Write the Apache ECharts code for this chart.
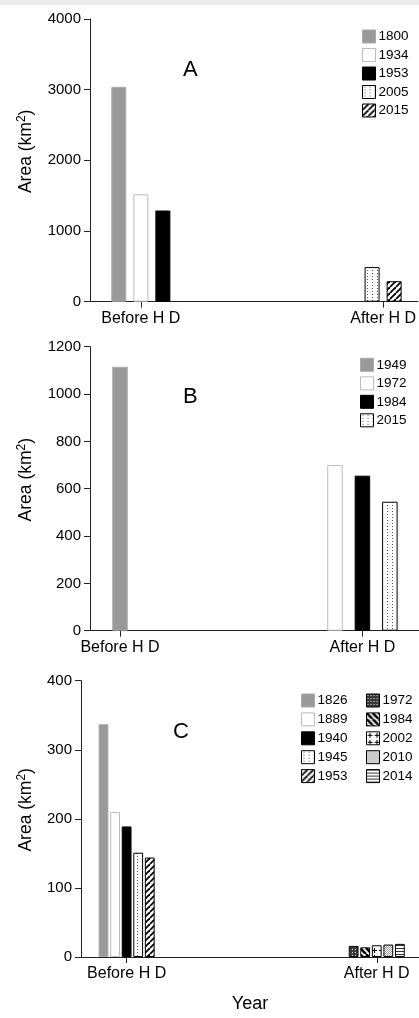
<!DOCTYPE html>
<html>
<head>
<meta charset="utf-8">
<script src="https://cdn.jsdelivr.net/npm/echarts@6/dist/echarts.min.js"></script>
<style>
  html, body { margin: 0; padding: 0; background: #fff; }
  #band { position: absolute; left: 0; top: 0; width: 419px; height: 5px; background: #ebebeb; }
  .chart { position: absolute; left: 0; width: 419px; }
</style>
</head>
<body>
<div id="band"></div>
<div id="chartA" class="chart" style="top:5px;height:325px"></div>
<div id="chartB" class="chart" style="top:330px;height:330px"></div>
<div id="chartC" class="chart" style="top:660px;height:358px"></div>
<script>
// categories
const categories = ['Before H D', 'After H D'];

// panel A
const yearsA1 = ['1800', '1934', '1953'];
const valuesA1 = [3040, 1520, 1290];
const yearsA2 = ['2005', '2015'];
const valuesA2 = [490, 290];
const ticksA = [0, 1000, 2000, 3000, 4000];

// panel B
const yearsB1 = ['1949'];
const valuesB1 = [1115];
const yearsB2 = ['1972', '1984', '2015'];
const valuesB2 = [700, 655, 545];
const ticksB = [0, 200, 400, 600, 800, 1000, 1200];

// panel C
const yearsC1 = ['1826', '1889', '1940', '1945', '1953'];
const valuesC1 = [337, 210, 189, 151, 144];
const yearsC2 = ['1972', '1984', '2002', '2010', '2014'];
const valuesC2 = [16, 14, 17, 18, 19];
const ticksC = [0, 100, 200, 300, 400];

const FONT = '"Liberation Sans", Arial, sans-serif';

// fill patterns
function pattern(kind) {
  const c = document.createElement('canvas');
  const ctx = c.getContext('2d');
  if (kind === 'dots') {
    c.width = 5; c.height = 3;
    ctx.fillStyle = '#fff'; ctx.fillRect(0, 0, 5, 3);
    ctx.fillStyle = '#555'; ctx.fillRect(2, 1, 1, 1);
  } else if (kind === 'hatch' || kind === 'stripe') {
    c.width = 6; c.height = 6;
    ctx.fillStyle = '#fff'; ctx.fillRect(0, 0, 6, 6);
    ctx.strokeStyle = '#000';
    ctx.lineWidth = kind === 'hatch' ? 1.8 : 2.6;
    for (const o of [-6, 0, 6]) {
      ctx.beginPath();
      if (kind === 'hatch') { ctx.moveTo(o, 6); ctx.lineTo(o + 6, 0); }
      else { ctx.moveTo(o, 0); ctx.lineTo(o + 6, 6); }
      ctx.stroke();
    }
  } else if (kind === 'check') {
    c.width = 3; c.height = 3;
    ctx.fillStyle = '#3a3a3a'; ctx.fillRect(0, 0, 3, 3);
    ctx.fillStyle = '#ddd'; ctx.fillRect(1, 1, 1, 1);
  } else if (kind === 'plus') {
    c.width = 7; c.height = 7;
    ctx.fillStyle = '#fff'; ctx.fillRect(0, 0, 7, 7);
    ctx.fillStyle = '#000';
    ctx.fillRect(3, 1, 1, 5); ctx.fillRect(1, 3, 5, 1);
  } else if (kind === 'stipple') {
    c.width = 2; c.height = 2;
    ctx.fillStyle = '#fff'; ctx.fillRect(0, 0, 2, 2);
    ctx.fillStyle = '#999'; ctx.fillRect(0, 0, 1, 1); ctx.fillRect(1, 1, 1, 1);
  } else if (kind === 'hlines') {
    c.width = 1; c.height = 3;
    ctx.fillStyle = '#fff'; ctx.fillRect(0, 0, 1, 3);
    ctx.fillStyle = '#333'; ctx.fillRect(0, 0, 1, 1);
  }
  return { image: c, repeat: 'repeat' };
}

function barStyle(kind) {
  if (kind === 'gray') return { color: '#999', borderColor: '#aaa', borderWidth: 1 };
  if (kind === 'white') return { color: '#fff', borderColor: '#bbb', borderWidth: 1 };
  if (kind === 'black') return { color: '#000', borderColor: '#000', borderWidth: 1 };
  return { color: pattern(kind), borderColor: '#000', borderWidth: 1 };
}

const styleA = { '1800': 'gray', '1934': 'white', '1953': 'black', '2005': 'dots', '2015': 'hatch' };
const styleB = { '1949': 'gray', '1972': 'white', '1984': 'black', '2015': 'dots' };
const styleC = {
  '1826': 'gray', '1889': 'white', '1940': 'black', '1945': 'dots', '1953': 'hatch',
  '1972': 'check', '1984': 'stripe', '2002': 'plus', '2010': 'stipple', '2014': 'hlines'
};

function legendOf(data, left, top, gap) {
  return {
    data: data, orient: 'vertical', left: left, top: top,
    icon: 'rect', itemWidth: 13, itemHeight: 13, itemGap: gap,
    selectedMode: false,
    itemStyle: { borderWidth: 1 },
    textStyle: { fontSize: 13.5, lineHeight: 13, color: '#000', fontFamily: FONT, padding: [0, 0, 0, -2] }
  };
}

function drawPanel(id, p) {
  const chart = echarts.init(document.getElementById(id));
  const series = [];
  [[p.years1, p.values1], [p.years2, p.values2]].forEach(([years, values], g) => {
    years.forEach((y, i) => {
      series.push({
        type: 'bar', name: y, xAxisIndex: g,
        barWidth: p.barWidth, barGap: p.barGap,
        data: [[p.pos[g], values[i]]],
        itemStyle: barStyle(p.styles[y]),
        emphasis: { disabled: true }
      });
    });
  });
  const axisCommon = {
    type: 'value', min: 0, max: 1,
    splitLine: { show: false }
  };
  chart.setOption({
    animation: false,
    title: {
      text: p.title, left: p.titlePos[0], top: p.titlePos[1],
      textStyle: { fontSize: 22, fontWeight: 'normal', color: '#000', fontFamily: FONT }
    },
    legend: p.legends,
    grid: { left: p.grid[0], top: p.grid[1], right: 0, height: p.grid[2], containLabel: false },
    xAxis: [
      Object.assign({}, axisCommon, {
        axisLine: { lineStyle: { color: '#222', width: 1 } },
        axisTick: { show: true, length: 6, customValues: p.pos, lineStyle: { color: '#222' } },
        axisLabel: {
          customValues: p.pos, margin: 9, fontSize: 16, color: '#000', fontFamily: FONT,
          formatter: v => categories[p.pos.indexOf(v)]
        },
        name: p.xName || '', nameLocation: 'middle', nameGap: 38,
        nameTextStyle: { fontSize: 18, color: '#000', fontFamily: FONT }
      }),
      Object.assign({}, axisCommon, { show: false })
    ],
    yAxis: {
      type: 'value', min: p.ticks[0], max: p.ticks[p.ticks.length - 1],
      interval: p.ticks[1] - p.ticks[0],
      splitLine: { show: false },
      axisLine: { show: true, lineStyle: { color: '#222', width: 1 } },
      axisTick: { show: true, length: 6, lineStyle: { color: '#222' } },
      axisLabel: { margin: 9, fontSize: 15, color: '#000', fontFamily: FONT, formatter: v => String(v) },
      name: 'Area (km{sup|2})', nameLocation: 'middle', nameGap: p.nameGap, nameRotate: 90,
      nameTextStyle: {
        fontSize: 17.5, color: '#000', fontFamily: FONT, padding: [0, 0, 0, 18],
        rich: { sup: { fontSize: 12, verticalAlign: 'top', padding: [0, 0, 8, 0], fontFamily: FONT, color: '#000' } }
      }
    },
    series: series
  });
}

drawPanel('chartA', {
  years1: yearsA1, values1: valuesA1, years2: yearsA2, values2: valuesA2,
  ticks: ticksA, styles: styleA, title: 'A', titlePos: [178, 49], nameGap: 54,
  grid: [90, 14, 282.7], pos: [0.155, 0.894], barWidth: 15, barGap: '47%',
  legends: [legendOf(yearsA1.concat(yearsA2), 357, 19.5, 4.5)]
});

drawPanel('chartB', {
  years1: yearsB1, values1: valuesB1, years2: yearsB2, values2: valuesB2,
  ticks: ticksB, styles: styleB, title: 'B', titlePos: [178, 51], nameGap: 54,
  grid: [90, 16.7, 284], pos: [0.0912, 0.828], barWidth: 15.5, barGap: '77%',
  legends: [legendOf(yearsB1.concat(yearsB2), 355, 22.8, 4.5)]
});

drawPanel('chartC', {
  years1: yearsC1, values1: valuesC1, years2: yearsC2, values2: valuesC2,
  ticks: ticksC, styles: styleC, title: 'C', titlePos: [168, 56], nameGap: 45,
  grid: [81, 20.7, 283.3], pos: [0.135, 0.875], barWidth: 9.8, barGap: '18%',
  xName: 'Year',
  legends: [legendOf(yearsC1, 296, 28.5, 4.9), legendOf(yearsC2, 361, 28.5, 4.9)]
});
</script>
</body>
</html>
